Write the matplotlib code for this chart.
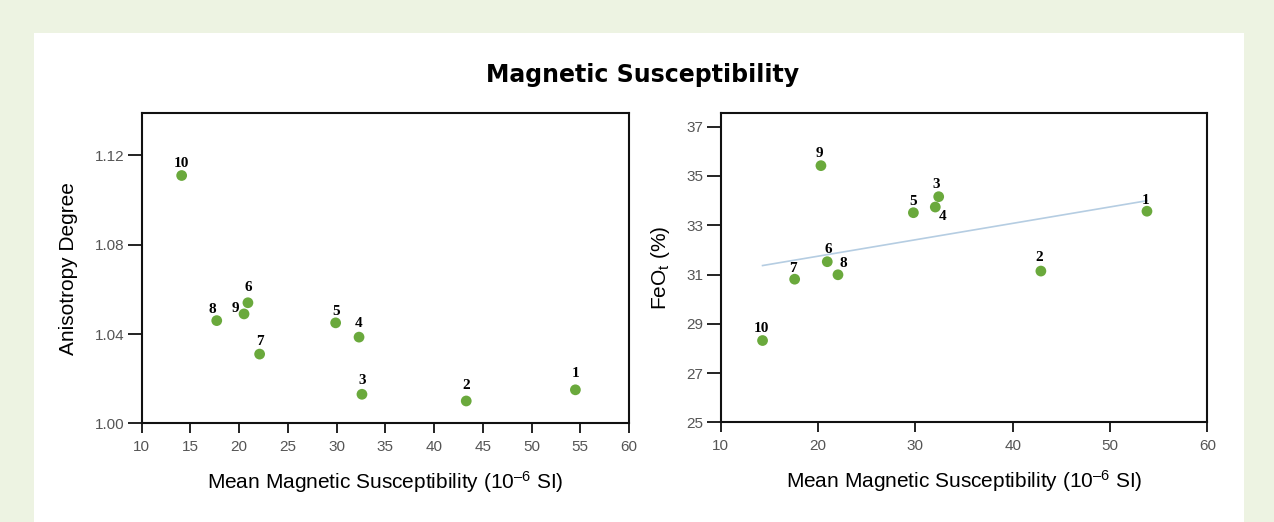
import numpy as np
import matplotlib
matplotlib.use('Agg')
import matplotlib.pyplot as plt
from matplotlib.patches import Rectangle

# sample ids, shared by both panels
ids = ['1', '2', '3', '4', '5', '6', '7', '8', '9', '10']

# left panel: mean susceptibility vs anisotropy degree
sus_l = [54.5, 43.3, 32.6, 32.3, 29.9, 20.9, 22.1, 17.7, 20.5, 14.1]
aniso = [1.015, 1.010, 1.013, 1.0386, 1.045, 1.054, 1.031, 1.046, 1.049, 1.111]

# right panel: mean susceptibility vs FeOt
sus_r = [53.8, 42.9, 32.4, 32.05, 29.8, 20.95, 17.6, 22.05, 20.3, 14.3]
feot = [33.57, 31.14, 34.16, 33.74, 33.51, 31.52, 30.81, 30.99, 35.42, 28.32]

left_xticks = list(range(10, 61, 5))
left_yticks = [1.00, 1.04, 1.08, 1.12]
right_xticks = list(range(10, 61, 10))
right_yticks = list(range(25, 38, 2))

# label offsets in points (dx, dy)
off_l = {'1': (0, 12), '2': (0, 11), '3': (0, 10), '4': (0, 10), '5': (0, 8),
         '6': (0, 11), '7': (0, 9), '8': (-3, 8), '9': (-6, 4), '10': (0, 9)}
off_r = {'1': (-1, 8), '2': (-1, 10), '3': (-2, 9), '4': (5, -7), '5': (0, 8),
         '6': (1, 9), '7': (-1, 8), '8': (4, 8), '9': (-1, 9), '10': (-1, 9)}

green = '#6aa93c'
plt.rcParams['mathtext.fontset'] = 'custom'
plt.rcParams['mathtext.rm'] = 'Liberation Sans'
plt.rcParams['mathtext.it'] = 'Liberation Sans:italic'
plt.rcParams['font.family'] = ['Liberation Sans', 'DejaVu Sans']

fig = plt.figure(figsize=(12.74, 5.22), dpi=100)
fig.patch.set_facecolor('#edf3e2')
fig.add_artist(Rectangle((34 / 1274, 0), (1244 - 34) / 1274, (522 - 33) / 522,
                         transform=fig.transFigure, facecolor='white',
                         edgecolor='none', zorder=0))

fig.text(0.504, 1 - 75 / 522, 'Magnetic Susceptibility', ha='center', va='center',
         fontsize=17, fontweight='bold', family='DejaVu Sans')

ax1 = fig.add_axes([141.7 / 1274, 98.7 / 522, 487.3 / 1274, 310.3 / 522])
ax2 = fig.add_axes([720.7 / 1274, 99.7 / 522, 486.6 / 1274, 309.6 / 522])

xlabel = 'Mean Magnetic Susceptibility (10$^{\u2013 6}$ SI)'


def style(ax, xt, yt, yfmt, ylen):
    for s in ax.spines.values():
        s.set_linewidth(1.5)
        s.set_color('#111111')
    ax.set_xticks(xt)
    ax.set_yticks(yt)
    ax.set_yticklabels([yfmt.format(v) for v in yt])
    ax.tick_params(direction='out', width=1.3, colors='#111111',
                   labelcolor='#555555', labelsize=11)
    ax.tick_params(axis='x', length=7, pad=5)
    ax.tick_params(axis='y', length=ylen, pad=2.5)
    ax.set_xlabel(xlabel, fontsize=15, labelpad=11)


ax1.scatter(sus_l, aniso, s=60, color=green, zorder=3, edgecolors='none')
for i, x, y in zip(ids, sus_l, aniso):
    ax1.annotate(i, (x, y), xytext=off_l[i], textcoords='offset points',
                 ha='center', va='center', fontsize=11, fontweight='bold',
                 family='Liberation Serif')
ax1.set_xlim(10, 60)
ax1.set_ylim(1.0, 1.139)
style(ax1, left_xticks, left_yticks, '{:.2f}', 10)
ax1.set_ylabel('Anisotropy Degree', fontsize=15, labelpad=12)

# fitted trend for FeOt
k, b = np.polyfit(sus_r, feot, 1)
xs = np.array([min(sus_r), max(sus_r)])
ax2.plot(xs, k * xs + b, color='#b5cde2', lw=1.2, zorder=2)
ax2.scatter(sus_r, feot, s=60, color=green, zorder=3, edgecolors='none')
for i, x, y in zip(ids, sus_r, feot):
    ax2.annotate(i, (x, y), xytext=off_r[i], textcoords='offset points',
                 ha='center', va='center', fontsize=11, fontweight='bold',
                 family='Liberation Serif')
ax2.set_xlim(10, 60)
ax2.set_ylim(25, 37.57)
style(ax2, right_xticks, right_yticks, '{:d}', 10)
ax2.set_ylabel('FeO$_{\\mathrm{t}}$ (%)', fontsize=15, labelpad=10)

fig.savefig('out.png', dpi=100, facecolor=fig.get_facecolor())
